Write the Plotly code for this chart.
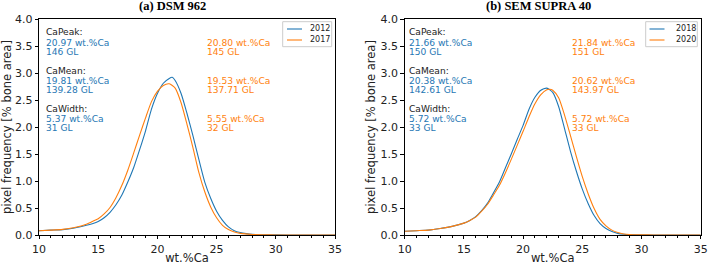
import plotly.graph_objects as go

# ---------------- data ----------------
x_a_2012 = [10, 11, 12, 13, 14, 14.5, 15, 15.5, 16, 16.5, 17, 17.5, 18, 18.5, 19, 19.5, 20, 20.5, 21, 21.25,
            21.5, 22, 22.5, 23, 23.5, 24, 24.5, 25, 25.5, 26, 26.5, 27, 27.5, 28, 29, 30, 32, 35]
y_a_2012 = [0.08, 0.09, 0.10, 0.13, 0.18, 0.21, 0.25, 0.32, 0.42, 0.56, 0.74, 0.98, 1.25, 1.58, 1.93, 2.33, 2.62, 2.81, 2.90, 2.92,
            2.86, 2.62, 2.25, 1.84, 1.40, 0.98, 0.68, 0.44, 0.27, 0.15, 0.08, 0.045, 0.025, 0.012, 0.005, 0.002, 0.001, 0.0]

x_a_2017 = [10, 11, 12, 13, 14, 14.5, 15, 15.5, 16, 16.5, 17, 17.5, 18, 18.5, 19, 19.5, 20, 20.5, 21,
            21.5, 22, 22.5, 23, 23.5, 24, 24.5, 25, 25.5, 26, 26.5, 27, 28, 29, 30, 35]
y_a_2017 = [0.08, 0.09, 0.105, 0.14, 0.20, 0.25, 0.30, 0.39, 0.51, 0.69, 0.92, 1.20, 1.52, 1.85, 2.17, 2.47, 2.66, 2.77, 2.80,
            2.72, 2.45, 2.05, 1.62, 1.16, 0.80, 0.52, 0.32, 0.18, 0.10, 0.055, 0.03, 0.01, 0.004, 0.001, 0.0]

x_b_2018 = [10, 11, 12, 13, 14, 15, 15.5, 16, 16.5, 17, 17.5, 18, 18.5, 19, 19.5, 20, 20.5, 21, 21.5, 22,
            22.5, 23, 23.5, 24, 24.5, 25, 25.5, 26, 26.5, 27, 27.5, 28, 28.5, 29, 30, 31, 35]
y_b_2018 = [0.07, 0.08, 0.09, 0.12, 0.16, 0.22, 0.27, 0.34, 0.45, 0.59, 0.78, 0.98, 1.24, 1.50, 1.77, 2.03, 2.33, 2.55, 2.68, 2.72,
            2.64, 2.38, 1.97, 1.55, 1.18, 0.85, 0.58, 0.36, 0.21, 0.12, 0.065, 0.03, 0.015, 0.008, 0.003, 0.001, 0.0]

x_b_2020 = [10, 11, 12, 13, 14, 15, 15.5, 16, 16.5, 17, 17.5, 18, 18.5, 19, 19.5, 20, 20.5, 21, 21.5, 22, 22.25,
            22.5, 23, 23.5, 24, 24.5, 25, 25.5, 26, 26.5, 27, 27.5, 28, 28.5, 29, 30, 31, 35]
y_b_2020 = [0.07, 0.08, 0.09, 0.12, 0.16, 0.22, 0.27, 0.33, 0.44, 0.57, 0.74, 0.92, 1.15, 1.40, 1.66, 1.92, 2.19, 2.43, 2.60, 2.69, 2.70,
            2.68, 2.54, 2.22, 1.84, 1.45, 1.08, 0.76, 0.49, 0.29, 0.17, 0.09, 0.045, 0.02, 0.01, 0.004, 0.001, 0.0]

titles = ["(a) DSM 962", "(b) SEM SUPRA 40"]
series_names = [["2012", "2017"], ["2018", "2020"]]
stat_labels = ["CaPeak:", "CaMean:", "CaWidth:"]
stats_a = [[["20.97 wt.%Ca", "146 GL"], ["19.81 wt.%Ca", "139.28 GL"], ["5.37 wt.%Ca", "31 GL"]],
           [["20.80 wt.%Ca", "145 GL"], ["19.53 wt.%Ca", "137.71 GL"], ["5.55 wt.%Ca", "32 GL"]]]
stats_b = [[["21.66 wt.%Ca", "150 GL"], ["20.38 wt.%Ca", "142.61 GL"], ["5.72 wt.%Ca", "33 GL"]],
           [["21.84 wt.%Ca", "151 GL"], ["20.62 wt.%Ca", "143.97 GL"], ["5.72 wt.%Ca", "33 GL"]]]
x_ticks = [10, 15, 20, 25, 30, 35]
y_ticks = [0.0, 0.5, 1.0, 1.5, 2.0, 2.5, 3.0, 3.5, 4.0]

# ---------------- styling ----------------
W, H = 708, 265
BLUE = "#1f77b4"
ORANGE = "#ff7f0e"
FONT = "DejaVu Sans"
TXT = "#222222"

panels = [(39, 335), (404.7, 700.7)]
top_px, bot_px = 19, 235

fig = go.Figure()

data = [[(x_a_2012, y_a_2012), (x_a_2017, y_a_2017)],
        [(x_b_2018, y_b_2018), (x_b_2020, y_b_2020)]]
colors = [BLUE, ORANGE]

for p in range(2):
    xa = "x" if p == 0 else "x2"
    ya = "y" if p == 0 else "y2"
    for s in range(2):
        xs, ys = data[p][s]
        fig.add_trace(go.Scatter(x=xs, y=ys, mode="lines", name=series_names[p][s],
                                 line=dict(color=colors[s], width=1.1, shape="spline", smoothing=0.6),
                                 xaxis=xa, yaxis=ya, showlegend=False))

axis_common = dict(showgrid=False, zeroline=False, showline=True, linecolor="black", linewidth=0.8,
                   mirror=True, ticks="outside", ticklen=3.5, tickwidth=0.8, tickcolor="black",
                   automargin=False,
                   tickfont=dict(family=FONT, size=11, color=TXT))

layout = dict(width=W, height=H, margin=dict(l=0, r=0, t=0, b=0, pad=0, autoexpand=False),
              plot_bgcolor="white", paper_bgcolor="white", showlegend=False)

ydom = [1 - bot_px / H, 1 - top_px / H]
for p, (l, r) in enumerate(panels):
    sfx = "" if p == 0 else "2"
    layout["xaxis" + sfx] = dict(axis_common, domain=[l / W, r / W], range=[10, 35], tickvals=x_ticks,
                                 anchor="y" + sfx,
                                 minor=dict(dtick=1, ticks="outside", ticklen=2, tickwidth=0.6, tickcolor="black"),
                                 title=dict(text="wt.%Ca", font=dict(family=FONT, size=11.5, color=TXT), standoff=2))
    layout["yaxis" + sfx] = dict(axis_common, domain=ydom, range=[0, 4], tickvals=y_ticks, tickformat=".1f",
                                 anchor="x" + sfx,
                                 title=dict(text="pixel frequency [% bone area]",
                                            font=dict(family=FONT, size=11.5, color=TXT), standoff=2))

fig.update_layout(**layout)

# titles
title_x = [172.7 / W, 538 / W]
for p in range(2):
    fig.add_annotation(text="<b>" + titles[p] + "</b>", xref="paper", yref="paper",
                       x=title_x[p], y=1 - 6.5 / H, xanchor="center", yanchor="middle", showarrow=False,
                       font=dict(family="Liberation Serif", size=12.5, color="black"))

# legends (framed box with line samples and labels)
leg_box = [(282.7, 331.7), (645.7, 697.3)]
leg_rows = [29, 40]
leg_line = [(287, 302), (649.5, 664.5)]
leg_text = [308, 674]
for p in range(2):
    x0, x1 = leg_box[p]
    fig.add_shape(type="rect", xref="paper", yref="paper", x0=x0 / W, x1=x1 / W,
                  y0=1 - 46.7 / H, y1=1 - 21.7 / H, line=dict(color="#cccccc", width=1),
                  fillcolor="rgba(255,255,255,0.8)", layer="above")
    for s in range(2):
        yy = 1 - leg_rows[s] / H
        fig.add_shape(type="line", xref="paper", yref="paper", x0=leg_line[p][0] / W, x1=leg_line[p][1] / W,
                      y0=yy, y1=yy, line=dict(color=colors[s], width=1.1), layer="above")
        fig.add_annotation(text=series_names[p][s], xref="paper", yref="paper", x=leg_text[p] / W, y=yy,
                           xanchor="left", yanchor="middle", showarrow=False,
                           font=dict(family=FONT, size=8, color=TXT))

# stats text
row_px = [[32, 42.7, 52.3], [71, 80.7, 90.3], [109, 118.6, 128.2]]
text_left_px = [45, 407.7]
text_right_px = [205.7, 571.3]
stats = [stats_a, stats_b]
for p in range(2):
    for g in range(3):
        fig.add_annotation(text=stat_labels[g], xref="paper", yref="paper",
                           x=text_left_px[p] / W, y=1 - row_px[g][0] / H, xanchor="left", yanchor="middle",
                           showarrow=False, borderpad=0, font=dict(family=FONT, size=9.1, color=TXT))
        for s in range(2):
            xpx = text_left_px[p] if s == 0 else text_right_px[p]
            for k in range(2):
                fig.add_annotation(text=stats[p][s][g][k], xref="paper", yref="paper",
                                   x=xpx / W, y=1 - row_px[g][k + 1] / H, xanchor="left", yanchor="middle",
                                   showarrow=False, borderpad=0, font=dict(family=FONT, size=9.1, color=colors[s]))

fig.write_html("out.html", config={"displayModeBar": False},
               post_script="document.body.style.margin='0';document.body.style.overflow='hidden';")
